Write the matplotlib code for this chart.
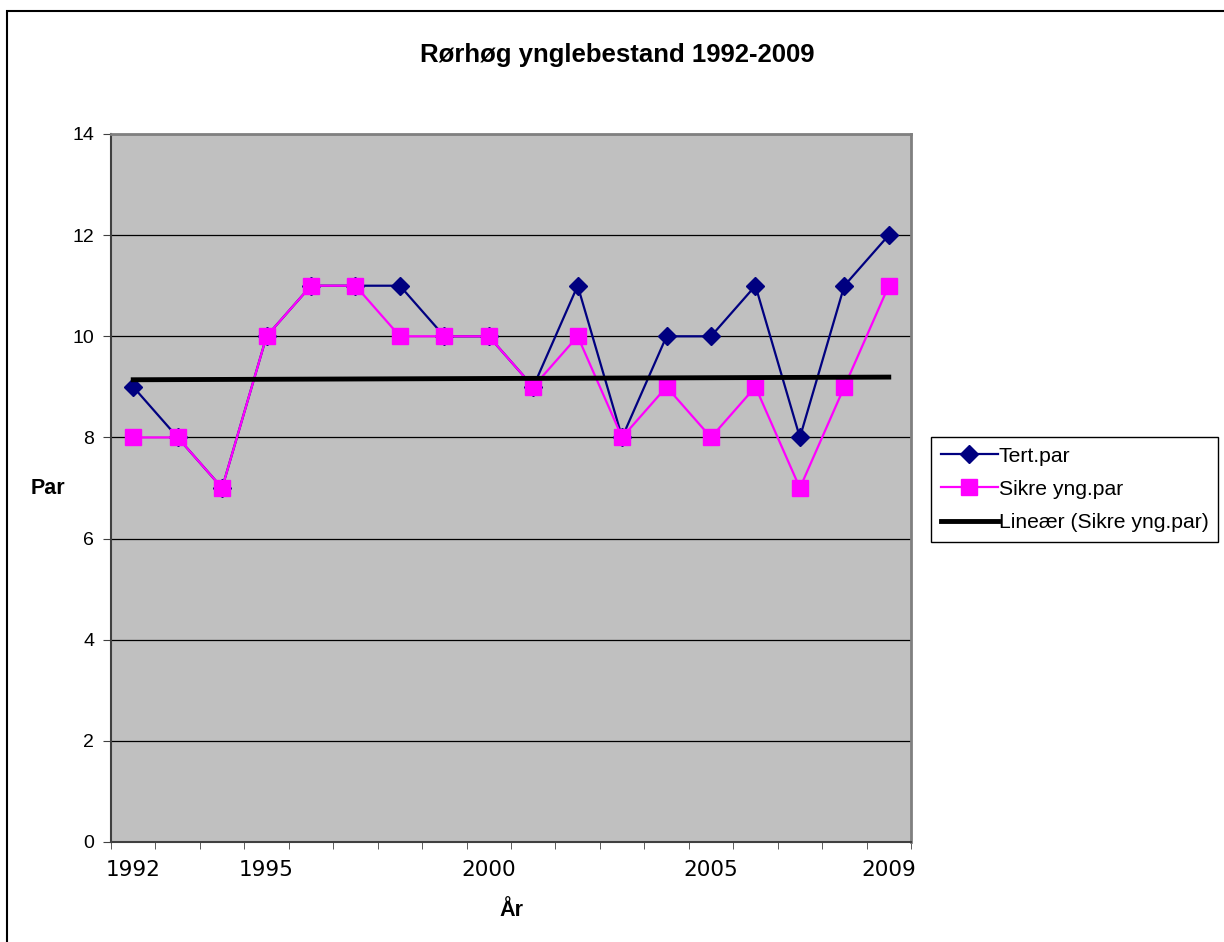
import numpy as np
import matplotlib.pyplot as plt
from matplotlib.patches import Rectangle

# donnees
aar = [1992, 1993, 1994, 1995, 1996, 1997, 1998, 1999, 2000,
       2001, 2002, 2003, 2004, 2005, 2006, 2007, 2008, 2009]
tert_par = [9, 8, 7, 10, 11, 11, 11, 10, 10, 9, 11, 8, 10, 10, 11, 8, 11, 12]
sikre_par = [8, 8, 7, 10, 11, 11, 10, 10, 10, 9, 10, 8, 9, 8, 9, 7, 9, 11]
vis_aar = [1992, 1995, 2000, 2005, 2009]

x = np.arange(len(aar))
k, m = np.polyfit(x, sikre_par, 1)
trend = k * x + m

plt.rcParams['font.family'] = ['Liberation Sans', 'DejaVu Sans']

fig = plt.figure(figsize=(12.24, 9.42), dpi=100)
fig.patches.append(Rectangle((7 / 1224, -0.1), 1.2, 1 - 11 / 942 + 0.1,
                             transform=fig.transFigure, fill=False,
                             edgecolor='black', linewidth=1.5))

ax = fig.add_axes([111 / 1224, 1 - 842 / 942, 800 / 1224, 708 / 942])
ax.set_facecolor('#C0C0C0')

ax.plot(x, tert_par, color='#000080', marker='D', markersize=9, linewidth=1.6,
        label='Tert.par', zorder=3)
ax.plot(x, sikre_par, color='#FF00FF', marker='s', markersize=11, linewidth=1.6,
        label='Sikre yng.par', zorder=4)
ax.plot(x, trend, color='black', linewidth=3.5, label='Lineær (Sikre yng.par)', zorder=5)

ax.set_xlim(-0.5, len(aar) - 0.5)
ax.set_ylim(0, 14)
ax.set_yticks(range(0, 15, 2))
ax.yaxis.grid(True, color='black', linewidth=0.9)
ax.set_axisbelow(True)

ax.set_xticks([aar.index(a) for a in vis_aar])
ax.set_xticklabels([str(a) for a in vis_aar], family='DejaVu Sans', fontsize=15.5)
ax.set_xticks(np.arange(-0.5, len(aar)), minor=True)
ax.tick_params(axis='x', which='major', length=0, pad=13)
ax.tick_params(axis='x', which='minor', length=5, color='#404040')
ax.tick_params(axis='y', length=6, labelsize=14, pad=6, color='#404040')

for s in ['top', 'right']:
    ax.spines[s].set_color('#808080')
    ax.spines[s].set_linewidth(2)
for s in ['left', 'bottom']:
    ax.spines[s].set_color('#404040')
    ax.spines[s].set_linewidth(1.5)

fig.text(617 / 1224, 1 - 55 / 942, 'Rørhøg ynglebestand 1992-2009', ha='center', va='center',
         fontsize=18.5, fontweight='bold')
fig.text(48 / 1224, 1 - 488 / 942, 'Par', ha='center', va='center', fontsize=15.5, fontweight='bold')
fig.text(511 / 1224, 1 - 910 / 942, 'År', ha='center', va='center', fontsize=15.5, fontweight='bold')

leg = fig.legend(loc='upper left', bbox_to_anchor=(931 / 1224, 1 - 437 / 942), fontsize=15.2,
                 frameon=True, fancybox=False, edgecolor='black', framealpha=1,
                 handlelength=2.7, handletextpad=0.05, borderpad=0.45, labelspacing=0.68,
                 borderaxespad=0)
leg.get_frame().set_linewidth(1.0)

fig.savefig('out.png', dpi=100)
